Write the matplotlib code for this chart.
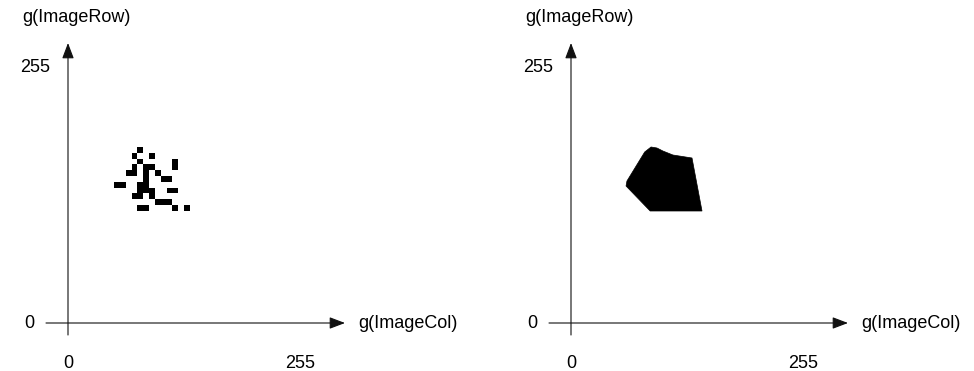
import matplotlib
matplotlib.use("Agg")
import matplotlib.pyplot as plt
from matplotlib.patches import Rectangle, Polygon

plt.rcParams['font.family'] = ['Liberation Sans', 'DejaVu Sans']

# ---- data (gray-value coordinates of occupied 2D-histogram cells) ----
cell_col = [76.2,
            69.8, 89.1,
            76.2, 114.8,
            69.8, 82.7, 89.1, 114.8,
            63.4, 69.8, 82.7, 95.5,
            82.7, 101.9, 108.4,
            50.5, 56.9, 76.2, 82.7,
            76.2, 82.7, 89.1, 108.4, 114.8,
            69.8, 76.2, 89.1,
            95.5, 101.9, 108.4,
            76.2, 82.7, 114.8, 127.7]
cell_row = [170.2,
            164.4, 164.4,
            158.6, 158.6,
            152.8, 152.8, 152.8, 152.8,
            147.0, 147.0, 147.0, 147.0,
            141.2, 141.2, 141.2,
            135.4, 135.4, 135.4, 135.4,
            129.6, 129.6, 129.6, 129.6, 129.6,
            123.8, 123.8, 123.8,
            118.0, 118.0, 118.0,
            112.2, 112.2, 112.2, 112.2]
cell_w = 6.45
cell_h = 5.85

hull_col = [88, 94.5, 101, 112, 133, 144, 87, 60.5, 61.5, 81]
hull_row = [176, 175, 172, 168, 165, 112, 112, 137, 142, 171]

axis_max = 255
x_label = "g(ImageCol)"
y_label = "g(ImageRow)"
tick_labels = ["0", "255"]

# ---- layout ----
W, H = 974, 371
fig = plt.figure(figsize=(W / 100, H / 100), dpi=100)
s = 232 / 255.0  # px per gray unit (x)
FS = 13
LC = '#111111'


def make_panel(left_px, axis_px):
    ax = fig.add_axes([left_px / W, 0, 487 / W, 1])
    off = axis_px - left_px
    ax.set_xlim(-off / s, (487 - off) / s)
    ax.set_ylim(-48, 323)
    ax.axis('off')
    px = lambda p: (p - axis_px) / s  # absolute fig px -> data x
    ap = dict(arrowstyle='-|>,head_length=0.95,head_width=0.36', mutation_scale=10,
              lw=0.8, color=LC, shrinkA=0, shrinkB=0)
    ax.annotate('', xy=(px(axis_px + 277), 0), xytext=(px(axis_px - 22), 0), arrowprops=ap)
    ax.annotate('', xy=(0, 280), xytext=(0, -12), arrowprops=ap)
    ax.text(px(axis_px + 290), 0, x_label, fontsize=FS, va='center', ha='left')
    ax.text(px(axis_px - 46), 305, y_label, fontsize=FS, va='center', ha='left')
    ax.text(0, -40, tick_labels[0], fontsize=FS, va='center', ha='center')
    ax.text(axis_max, -40, tick_labels[1], fontsize=FS, va='center', ha='center')
    ax.text(px(axis_px - 34), 0, tick_labels[0], fontsize=FS, va='center', ha='right')
    ax.text(px(axis_px - 18), axis_max, tick_labels[1], fontsize=FS, va='center', ha='right')
    return ax


ax1 = make_panel(0, 68)
for cx, cy in zip(cell_col, cell_row):
    ax1.add_patch(Rectangle((cx, cy), cell_w, cell_h, facecolor='black', edgecolor='none'))

ax2 = make_panel(487, 571)
ax2.add_patch(Polygon(list(zip(hull_col, hull_row)), closed=True,
                      facecolor='black', edgecolor='black', lw=0.5))

fig.savefig("out.png", dpi=100)
